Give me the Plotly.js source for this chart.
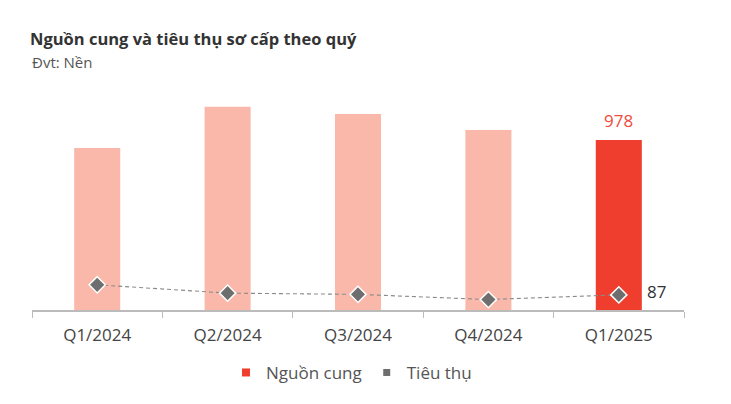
<!DOCTYPE html>
<html>
<head>
<meta charset="utf-8">
<script src="https://cdn.plot.ly/plotly-3.0.1.min.js"></script>
<style>html,body{margin:0;padding:0;background:#fff;}#chart{width:731px;height:404px;}</style>
</head>
<body>
<div id="chart"></div>
<script>
const categories = ["Q1/2024", "Q2/2024", "Q3/2024", "Q4/2024", "Q1/2025"];
const supply = [932, 1170, 1128, 1036, 978];
const sales = [145, 97, 90, 60, 87];
const supplyName = "Nguồn cung";
const salesName = "Tiêu thụ";

const lightRed = "#f9b8aa";
const red = "#ef3e2e";
const gray = "#6e6e6e";
const font = "Open Sans, Lato, sans-serif";

const barColors = categories.map((c, i) => i === categories.length - 1 ? red : lightRed);
const last = categories.length - 1;

const traces = [
  {
    type: "bar", x: categories, y: supply, name: supplyName,
    marker: {color: barColors}, showlegend: false, hoverinfo: "skip"
  },
  {
    type: "scatter", mode: "lines+markers", x: categories, y: sales, name: salesName,
    line: {color: "#8a8a8a", width: 1.1, dash: "4px,3px"},
    marker: {symbol: "diamond", size: 12.5, color: gray, line: {color: "#ffffff", width: 1.5}},
    showlegend: false, hoverinfo: "skip"
  },
  {
    type: "scatter", mode: "markers", x: [null], y: [null], name: supplyName,
    marker: {symbol: "square", size: 8, color: red}, showlegend: true
  },
  {
    type: "scatter", mode: "markers", x: [null], y: [null], name: salesName,
    marker: {symbol: "square", size: 7, color: gray}, showlegend: true
  }
];

const layout = {
  width: 731, height: 404,
  margin: {l: 32, r: 47, t: 90, b: 94},
  paper_bgcolor: "#ffffff", plot_bgcolor: "#ffffff",
  font: {family: font, color: "#444"},
  bargap: 0.647,
  title: {
    text: "<b>Nguồn cung và tiêu thụ sơ cấp theo quý</b>",
    font: {family: font, size: 16.5, color: "#333"},
    x: 30/731, xanchor: "left", xref: "container",
    y: 1 - 39/404, yanchor: "middle", yref: "container"
  },
  xaxis: {
    type: "category", range: [-0.5, 4.5], fixedrange: true,
    showline: true, linecolor: "#bbbbbb", linewidth: 2,
    ticks: "outside", tickson: "boundaries", ticklen: 6, tickcolor: "#bbbbbb", tickwidth: 1,
    ticklabelstandoff: 9,
    tickfont: {family: font, size: 17, color: "#444"},
    showgrid: false, zeroline: false
  },
  yaxis: {
    range: [0, 1266], visible: false, showgrid: false, zeroline: false, fixedrange: true
  },
  legend: {
    orientation: "h", x: 0.49, xanchor: "center", y: -0.286, yanchor: "middle",
    font: {family: font, size: 17, color: "#555"}, itemwidth: 30, traceorder: "normal"
  },
  annotations: [
    {
      xref: "paper", yref: "paper", x: -2/652, y: (310-62)/220, xanchor: "left", yanchor: "middle",
      text: "Đvt: Nền", showarrow: false, font: {family: font, size: 15, color: "#555"}
    },
    {
      x: categories[last], y: supply[last], xref: "x", yref: "y", yanchor: "bottom", yshift: 6,
      text: String(supply[last]), showarrow: false, font: {family: font, size: 17, color: "#f04b3c"}
    },
    {
      x: categories[last], y: sales[last], xref: "x", yref: "y", xanchor: "center", yanchor: "middle",
      xshift: 38, yshift: 3,
      text: String(sales[last]), showarrow: false, font: {family: font, size: 17, color: "#333"}
    }
  ]
};

Plotly.newPlot("chart", traces, layout, {displayModeBar: false, staticPlot: true});
</script>
</body>
</html>
